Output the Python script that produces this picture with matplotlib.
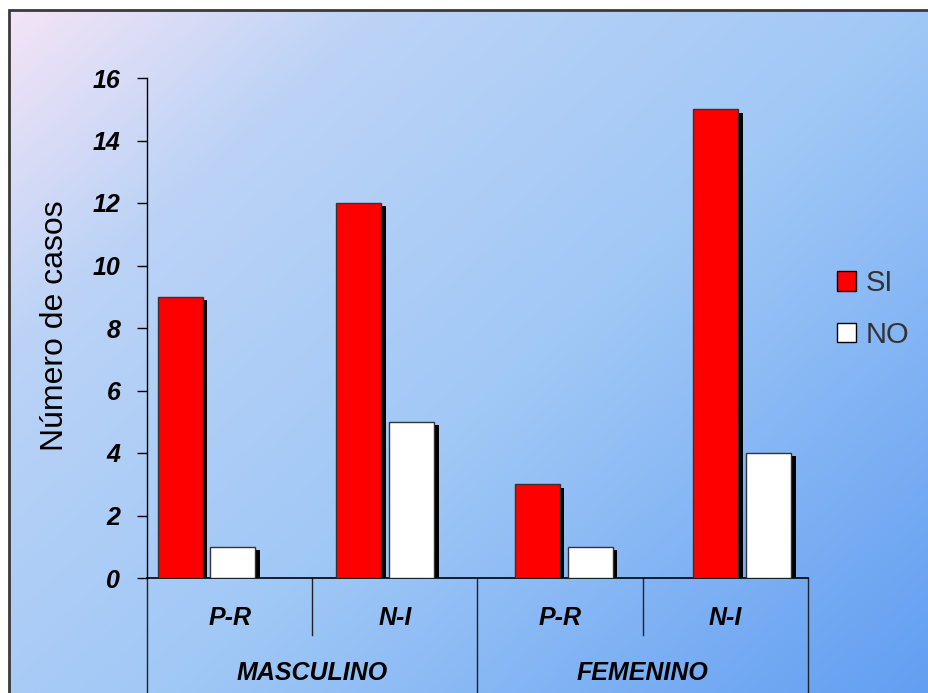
import numpy as np
import matplotlib
matplotlib.use("Agg")
import matplotlib.pyplot as plt
from matplotlib.patches import Rectangle, Patch

# datos del grafico
categorias = ["P-R", "N-I", "P-R", "N-I"]
grupos = ["MASCULINO", "FEMENINO"]
si_valores = [9, 12, 3, 15]
no_valores = [1, 5, 1, 4]
y_ticks = [0, 2, 4, 6, 8, 10, 12, 14, 16]

W, H = 929, 693
plt.rcParams["font.family"] = ["Liberation Sans", "DejaVu Sans"]

fig = plt.figure(figsize=(W / 100, H / 100), dpi=100)
fig.patch.set_facecolor("white")

# fondo degradado (rosa arriba a la izquierda -> azul abajo a la derecha)
bg = fig.add_axes([10 / W, 0, 1 - 10 / W, 1 - 10 / H])
bg.set_axis_off()
gx, gy = np.meshgrid(np.linspace(0, 1, 300), np.linspace(0, 1, 240))
t = np.clip(0.55 * gx + 0.45 * gy, 0, 1)
stops = np.array([0.0, 0.22, 0.55, 1.0])
cols = np.array([[244, 228, 246], [188, 211, 246], [160, 200, 246], [98, 158, 242]]) / 255
img = np.stack([np.interp(t, stops, cols[:, i]) for i in range(3)], axis=-1)
bg.imshow(img, aspect="auto", extent=[0, 1, 0, 1], origin="upper")
bg.set_xlim(0, 1)
bg.set_ylim(0, 1)

# marco
fig.patches.append(Rectangle((9 / W, -0.1), 1.2, 1 - 10 / H + 0.1, transform=fig.transFigure,
                             fill=False, edgecolor="#3a3a3a", linewidth=2))

ax = fig.add_axes([147 / W, (H - 578) / H, 661 / W, 500 / H])
ax.patch.set_alpha(0)
ax.set_xlim(0, 4)
ax.set_ylim(0, 16)

paso = 1.081
ancho = 0.272
x_si = np.arange(len(si_valores)) * paso + 0.2
x_no = x_si + 0.32
sx, sy = 0.028, 0.11  # sombra

ax.bar(x_si + sx, np.array(si_valores) - sy, ancho, color="black", zorder=2)
ax.bar(x_no + sx, np.array(no_valores) - sy, ancho, color="black", zorder=2)
ax.bar(x_si, si_valores, ancho, color="#ff0000", edgecolor="#333333", linewidth=1, zorder=3)
ax.bar(x_no, no_valores, ancho, color="white", edgecolor="#333333", linewidth=1, zorder=3)

for s in ["top", "right"]:
    ax.spines[s].set_visible(False)
ax.spines["left"].set_linewidth(1)
ax.spines["bottom"].set_linewidth(1.2)
ax.set_yticks(y_ticks)
ax.set_yticklabels([str(v) for v in y_ticks], fontsize=18, fontweight="bold", fontstyle="italic")
ax.tick_params(axis="y", length=7.2, width=1, pad=12, direction="out")
ax.set_xticks([])

# tabla de categorias bajo el eje
for i in range(5):
    y_fin = -3.7 if i % 2 == 0 else -1.82
    ax.plot([i, i], [0, y_fin], color="#222222", lw=1, clip_on=False)
for i, c in enumerate(categorias):
    ax.text(i + 0.5, -1.28, c, ha="center", va="center", fontsize=18,
            fontweight="bold", fontstyle="italic")
for j, g in enumerate(grupos):
    ax.text(2 * j + 1, -3.04, g, ha="center", va="center", fontsize=18,
            fontweight="bold", fontstyle="italic")

fig.text(55 / W, 1 - 326 / H, "Número de casos", rotation=90, ha="center", va="center",
         fontsize=23)

handles = [Patch(facecolor="#ff0000", edgecolor="black", linewidth=1),
           Patch(facecolor="white", edgecolor="black", linewidth=1)]
leg = fig.legend(handles, ["SI", "NO"], loc="upper left",
                 bbox_to_anchor=(811 / W, 1 - 243 / H), frameon=False,
                 fontsize=21, handlelength=0.65, handleheight=0.65,
                 handletextpad=0.34, labelspacing=0.8)
for tx in leg.get_texts():
    tx.set_color("#333333")

fig.savefig("out.png", dpi=100)
